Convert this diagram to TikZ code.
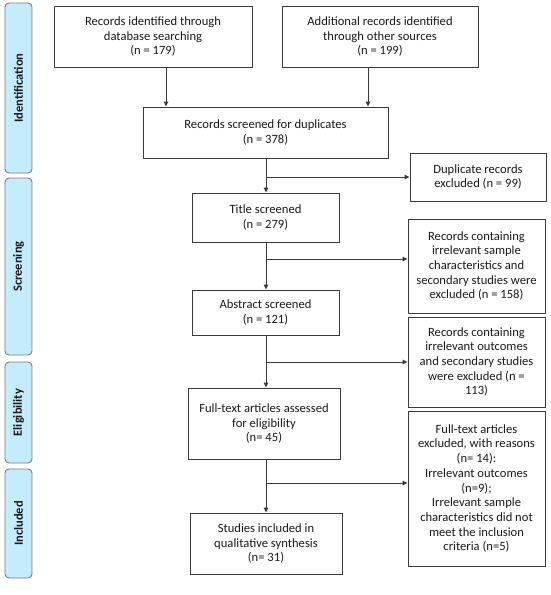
\documentclass[tikz,border=0pt]{standalone}
\usepackage{fontspec}
\setmainfont{Carlito}
\usetikzlibrary{arrows.meta}
\definecolor{bandfill}{HTML}{C4ECFC}
\definecolor{bandline}{HTML}{7A7A7A}
\definecolor{boxline}{HTML}{3A3A3A}
\begin{document}
\begin{tikzpicture}[x=1pt,y=-1pt,
  box/.style={draw=boxline, line width=0.9pt, align=center, inner sep=0pt,
    font=\fontsize{12.6}{14.7}\selectfont, text=black!90},
  band/.style={draw=bandline, fill=bandfill, line width=0.9pt, rounded corners=4pt},
  bandlabel/.style={rotate=90, font=\bfseries\fontsize{12.5}{14}\selectfont, text=black!90},
  arr/.style={draw=boxline, line width=0.9pt, -{Triangle[length=5pt,width=4.5pt]}},
  ln/.style={draw=boxline, line width=0.9pt}]
\useasboundingbox (0,0) rectangle (550,595);
% bands
\draw[band] (5,3) rectangle (32,173);
\node[bandlabel] (bid) at (18.5,88) {Identification};
\draw[band] (5,178) rectangle (32,355);
\node[bandlabel] (bsc) at (18.5,266.5) {Screening};
\draw[band] (5,362) rectangle (32,463);
\node[bandlabel] (bel) at (18.5,412.5) {Eligibility};
\draw[band] (5,469) rectangle (32,578);
\node[bandlabel] (bin) at (18.5,523.5) {Included};
% boxes
\node[box, minimum width=198, minimum height=61] (db) at (153,36.5)
  {Records identified through\\database searching\\(n = 179)};
\node[box, minimum width=196, minimum height=61] (os) at (380,36.5)
  {Additional records identified\\through other sources\\(n = 199)};
\node[box, minimum width=245, minimum height=51] (dup) at (265.5,132.5)
  {Records screened for duplicates\\(n = 378)};
\node[box, minimum width=136, minimum height=48] (dex) at (478,177)
  {Duplicate records\\excluded (n = 99)};
\node[box, minimum width=147, minimum height=49] (ts) at (265.5,217.5)
  {Title screened\\(n = 279)};
\node[box, minimum width=137, minimum height=94] (tex) at (476.5,266)
  {Records containing\\irrelevant sample\\characteristics and\\secondary studies were\\excluded (n = 158)};
\node[box, minimum width=147, minimum height=45] (as) at (265.5,312.5)
  {Abstract screened\\(n = 121)};
\node[box, minimum width=137, minimum height=90] (aex) at (476.5,362)
  {Records containing\\irrelevant outcomes\\and secondary studies\\were excluded (n =\\113)};
\node[box, minimum width=152, minimum height=71] (ft) at (264,423.5)
  {Full-text articles assessed\\for eligibility\\(n= 45)};
\node[box, minimum width=137, minimum height=155] (fex) at (476.5,488.5)
  {Full-text articles\\excluded, with reasons\\(n= 14):\\Irrelevant outcomes\\(n=9);\\Irrelevant sample\\characteristics did not\\meet the inclusion\\criteria (n=5)};
\node[box, minimum width=152, minimum height=61] (si) at (266,543.5)
  {Studies included in\\qualitative synthesis\\(n= 31)};
% connectors
\coordinate (a1) at (166,67);
\coordinate (a2) at (368,67);
\draw[arr] (a1) -- (a1 |- dup.north);
\draw[arr] (a2) -- (a2 |- dup.north);
\coordinate (v1) at (266,158);
\coordinate (j1) at (266,177);
\coordinate (j2) at (266,259);
\coordinate (j3) at (266,362);
\coordinate (j4) at (266,483);
\draw[arr] (v1) -- (v1 |- ts.north);
\draw[arr] (v1 |- ts.south) -- (v1 |- as.north);
\draw[arr] (v1 |- as.south) -- (v1 |- ft.north);
\draw[arr] (v1 |- ft.south) -- (v1 |- si.north);
\draw[arr] (j1) -- (dex.west |- j1);
\draw[arr] (j2) -- (tex.west |- j2);
\draw[arr] (j3) -- (aex.west |- j3);
\draw[arr] (j4) -- (fex.west |- j4);
\end{tikzpicture}
\end{document}
